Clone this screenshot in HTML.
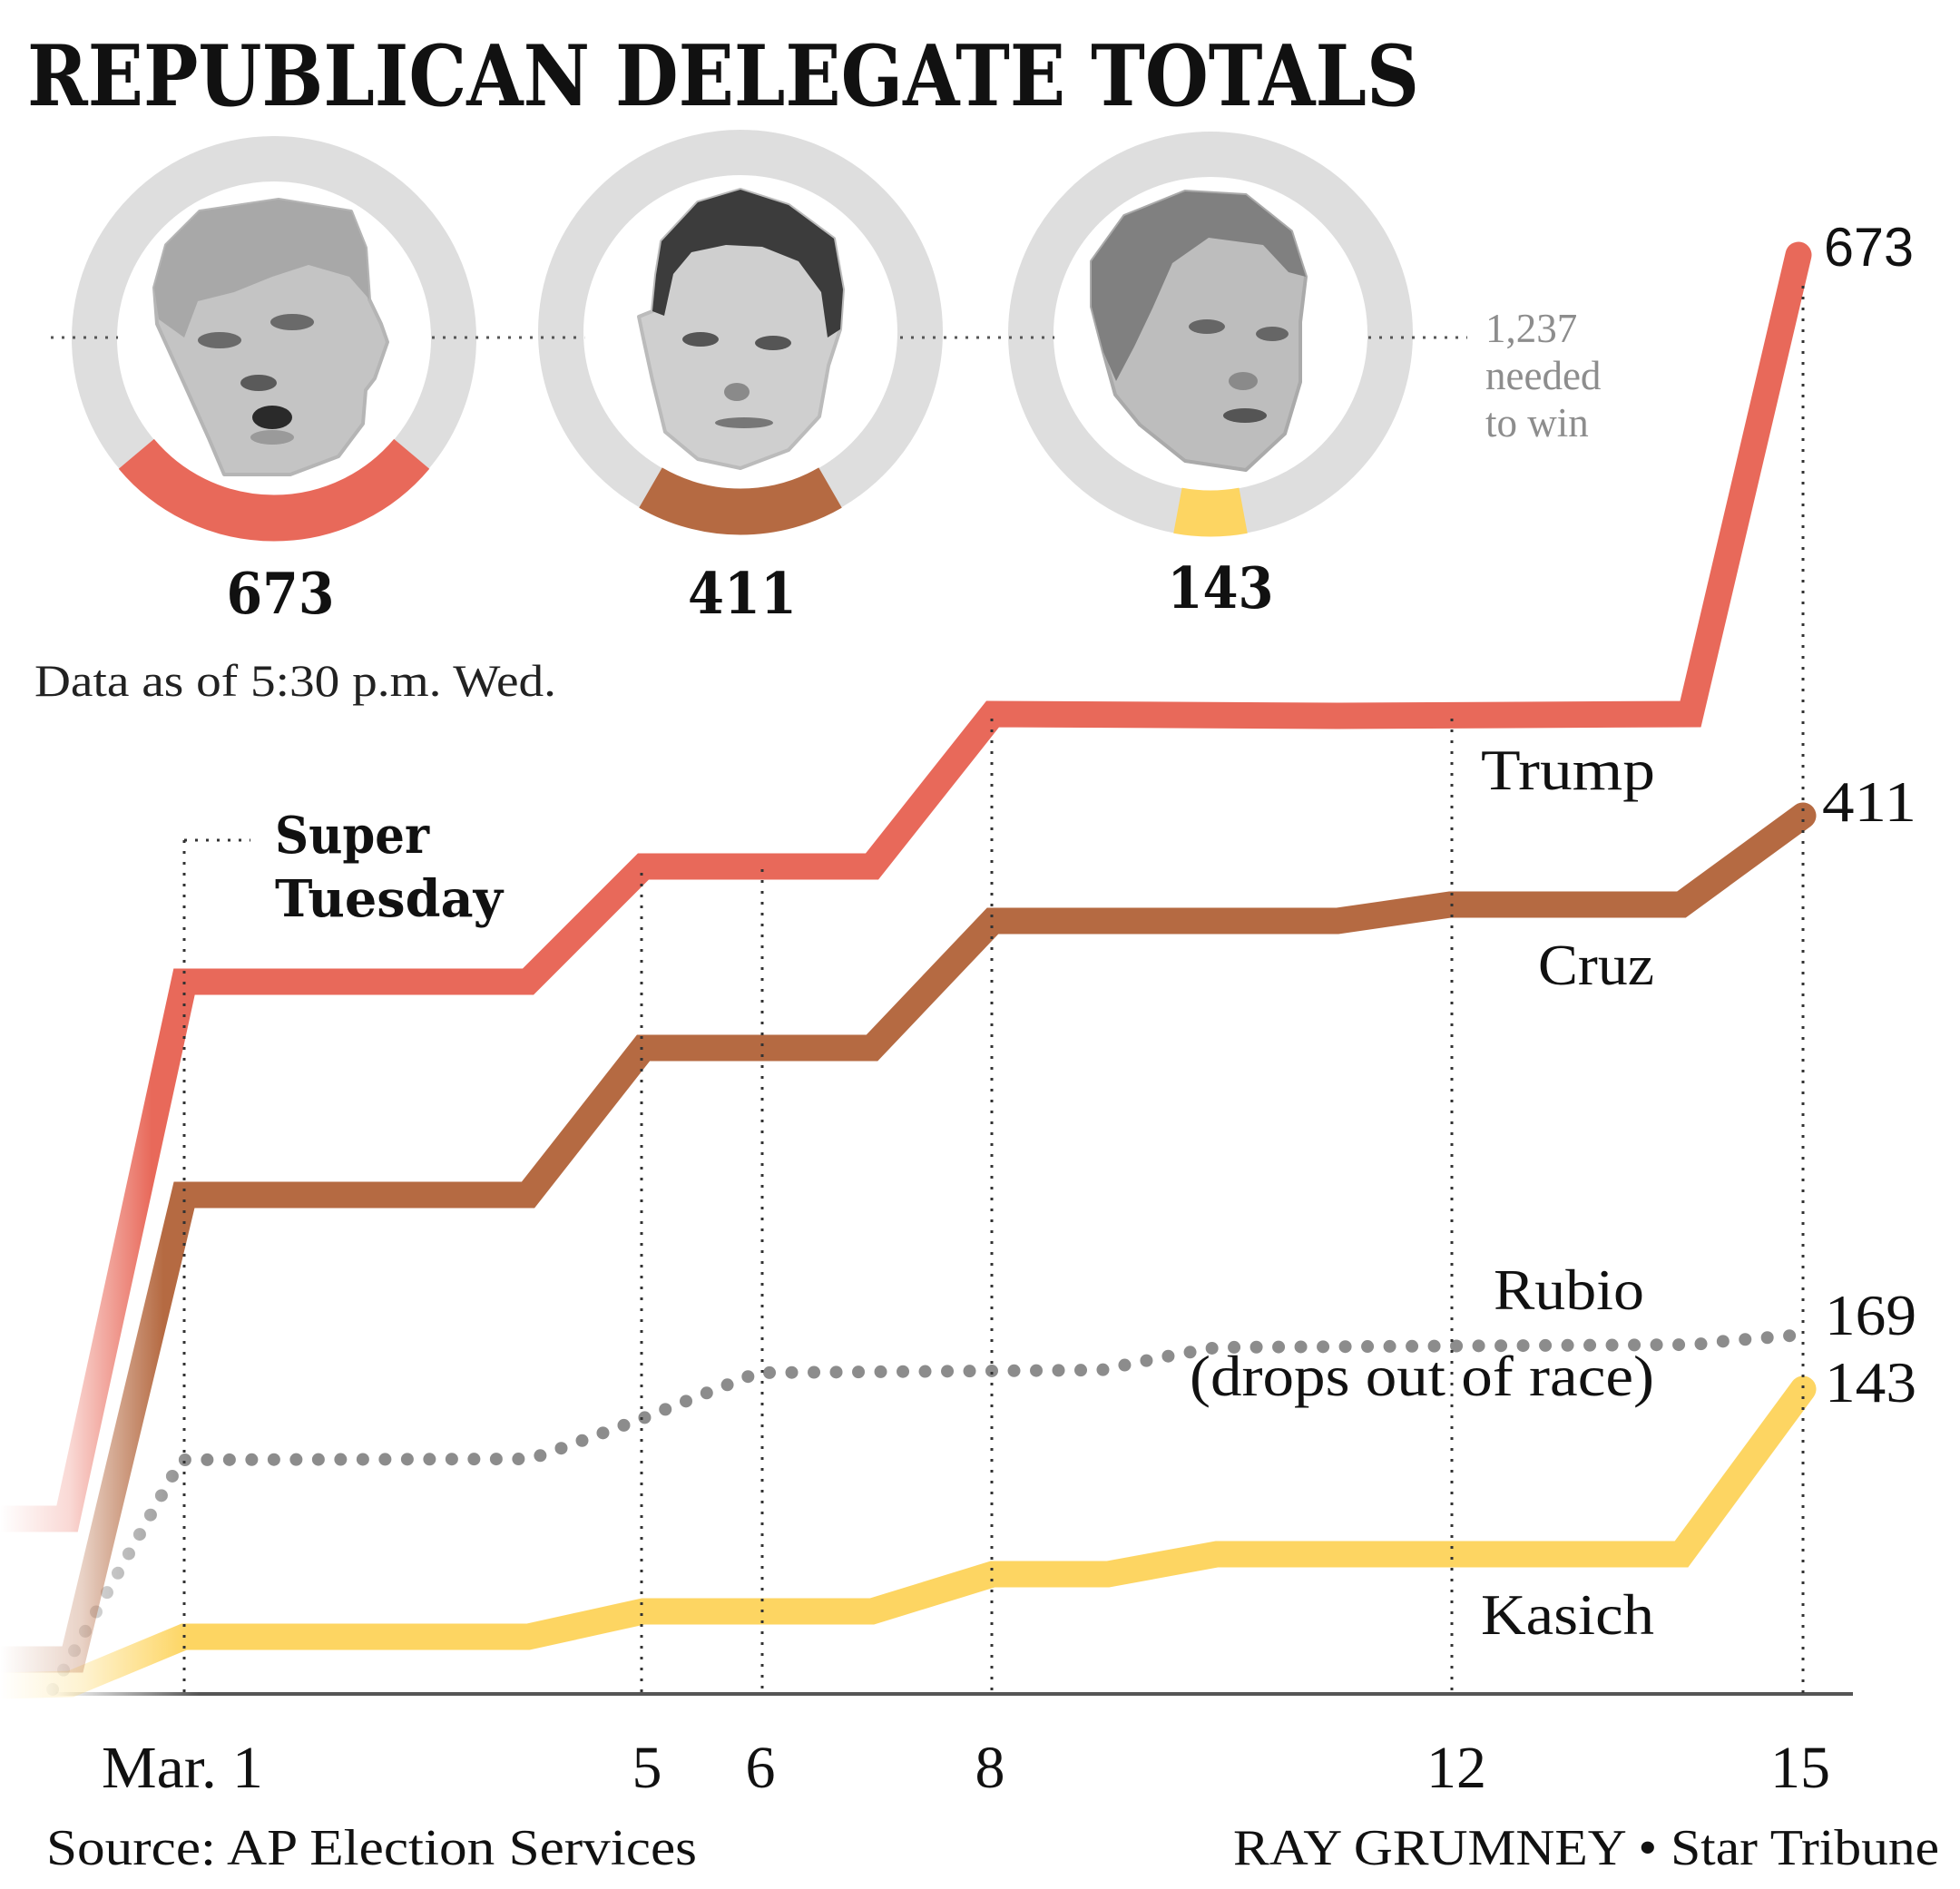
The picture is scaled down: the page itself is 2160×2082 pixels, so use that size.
<!DOCTYPE html>
<html><head><meta charset="utf-8">
<style>
html,body{margin:0;padding:0;background:#fff;}
svg{display:block;}
</style></head>
<body>
<svg xmlns="http://www.w3.org/2000/svg" width="2160" height="2082" viewBox="0 0 2160 2082">
<defs>
<linearGradient id="gT" gradientUnits="userSpaceOnUse" x1="0" y1="0" x2="190" y2="0">
<stop offset="0" stop-color="#e8695a" stop-opacity="0"/>
<stop offset="0.4" stop-color="#e8695a" stop-opacity="0.25"/>
<stop offset="0.88" stop-color="#e8695a" stop-opacity="1"/>
</linearGradient>
<linearGradient id="gC" gradientUnits="userSpaceOnUse" x1="0" y1="0" x2="200" y2="0">
<stop offset="0" stop-color="#b56a42" stop-opacity="0"/>
<stop offset="0.45" stop-color="#b56a42" stop-opacity="0.3"/>
<stop offset="0.9" stop-color="#b56a42" stop-opacity="1"/>
</linearGradient>
<linearGradient id="gK" gradientUnits="userSpaceOnUse" x1="0" y1="0" x2="230" y2="0">
<stop offset="0" stop-color="#fdd562" stop-opacity="0"/>
<stop offset="0.4" stop-color="#fdd562" stop-opacity="0.3"/>
<stop offset="0.9" stop-color="#fdd562" stop-opacity="1"/>
</linearGradient>
<linearGradient id="gR" gradientUnits="userSpaceOnUse" x1="40" y1="0" x2="210" y2="0">
<stop offset="0" stop-color="#8c8c8c" stop-opacity="0"/>
<stop offset="0.5" stop-color="#8c8c8c" stop-opacity="0.5"/>
<stop offset="1" stop-color="#8c8c8c" stop-opacity="1"/>
</linearGradient>
<linearGradient id="gA" gradientUnits="userSpaceOnUse" x1="60" y1="0" x2="220" y2="0">
<stop offset="0" stop-color="#555" stop-opacity="0"/>
<stop offset="1" stop-color="#555" stop-opacity="1"/>
</linearGradient>
</defs>

<!-- Title -->
<text x="30" y="116" font-family="'DejaVu Serif','Liberation Serif',serif" font-weight="bold" font-size="93" fill="#111" textLength="1534" lengthAdjust="spacingAndGlyphs">REPUBLICAN DELEGATE TOTALS</text>

<!-- rings -->
<circle cx="302" cy="373" r="198" fill="none" stroke="#dedede" stroke-width="50"/>
<circle cx="816" cy="366" r="198" fill="none" stroke="#dedede" stroke-width="50"/>
<circle cx="1334" cy="368" r="198" fill="none" stroke="#dedede" stroke-width="50"/>

<!-- dotted 1237 line -->
<line x1="56" y1="372" x2="1617" y2="372" stroke="#555" stroke-width="3" stroke-dasharray="3 9"/>

<!-- inner white disks -->
<circle cx="302" cy="373" r="172" fill="#fff"/>
<circle cx="816" cy="366" r="172" fill="#fff"/>
<circle cx="1334" cy="368" r="172" fill="#fff"/>

<!-- colored arcs -->
<path d="M150.3 500.3 A198 198 0 0 0 453.7 500.3" fill="none" stroke="#e8695a" stroke-width="51"/>
<path d="M717 537.5 A198 198 0 0 0 915 537.5" fill="none" stroke="#b56a42" stroke-width="51"/>
<path d="M1297.9 562.7 A198 198 0 0 0 1370.1 562.7" fill="none" stroke="#fdd562" stroke-width="51"/>

<!-- Trump face -->
<path d="M183 270 L220 233 L307 220 L387 233 L403 273 L407 330 L420 357 L427 377 L413 417 L403 430 L400 467 L373 503 L320 523 L247 523 L230 483 L203 423 L173 357 L170 317 Z" fill="#c4c4c4" stroke="#b5b5b5" stroke-width="4" stroke-linejoin="round"/>
<path d="M183 270 L220 233 L307 220 L387 233 L403 273 L407 330 L385 305 L340 292 L300 305 L258 322 L218 332 L203 372 L175 352 L170 317 Z" fill="#a8a8a8"/>
<ellipse cx="242" cy="375" rx="24" ry="9" fill="#6a6a6a"/>
<ellipse cx="322" cy="355" rx="24" ry="9" fill="#6a6a6a"/>
<ellipse cx="285" cy="422" rx="20" ry="9" fill="#5a5a5a"/>
<ellipse cx="300" cy="460" rx="22" ry="13" fill="#2a2a2a"/>
<ellipse cx="300" cy="482" rx="24" ry="8" fill="#9a9a9a"/>

<!-- Cruz face -->
<path d="M729 266 L769 223 L816 209 L869 226 L919 263 L929 319 L926 363 L913 403 L903 459 L869 496 L816 516 L769 506 L733 476 L719 419 L709 373 L704 349 L719 343 L723 303 Z" fill="#cfcfcf" stroke="#bbb" stroke-width="4" stroke-linejoin="round"/>
<path d="M729 266 L769 223 L816 209 L869 226 L919 263 L929 319 L926 363 L912 372 L905 322 L880 288 L840 272 L800 270 L762 278 L742 302 L732 348 L719 343 L723 303 Z" fill="#3c3c3c"/>
<ellipse cx="772" cy="374" rx="20" ry="8" fill="#555"/>
<ellipse cx="852" cy="378" rx="20" ry="8" fill="#555"/>
<ellipse cx="812" cy="432" rx="14" ry="10" fill="#8a8a8a"/>
<ellipse cx="820" cy="466" rx="32" ry="6" fill="#777"/>

<!-- Kasich face -->
<path d="M1203 288 L1239 238 L1306 211 L1373 215 L1423 255 L1439 305 L1433 355 L1433 421 L1416 478 L1373 518 L1306 508 L1256 468 L1229 435 L1216 388 L1203 338 Z" fill="#bdbdbd" stroke="#aaa" stroke-width="4" stroke-linejoin="round"/>
<path d="M1203 288 L1239 238 L1306 211 L1373 215 L1423 255 L1439 305 L1420 300 L1392 270 L1332 262 L1292 290 L1270 340 L1250 382 L1230 420 L1216 388 L1203 338 Z" fill="#808080"/>
<ellipse cx="1330" cy="360" rx="20" ry="8" fill="#666"/>
<ellipse cx="1402" cy="368" rx="18" ry="8" fill="#666"/>
<ellipse cx="1370" cy="420" rx="16" ry="10" fill="#8a8a8a"/>
<ellipse cx="1372" cy="458" rx="24" ry="8" fill="#555"/>

<!-- big numbers -->
<text x="309" y="676" text-anchor="middle" font-family="'DejaVu Serif','Liberation Serif',serif" font-weight="bold" font-size="63" fill="#111" textLength="119" lengthAdjust="spacingAndGlyphs">673</text>
<text x="818" y="676" text-anchor="middle" font-family="'DejaVu Serif','Liberation Serif',serif" font-weight="bold" font-size="63" fill="#111" textLength="120" lengthAdjust="spacingAndGlyphs">411</text>
<text x="1345" y="670" text-anchor="middle" font-family="'DejaVu Serif','Liberation Serif',serif" font-weight="bold" font-size="63" fill="#111" textLength="117" lengthAdjust="spacingAndGlyphs">143</text>

<!-- 1237 note -->
<g font-family="'Liberation Serif',serif" font-size="45" fill="#8d8d8d">
<text x="1637" y="377">1,237</text>
<text x="1637" y="429">needed</text>
<text x="1637" y="481">to win</text>
</g>

<text x="38" y="767" font-family="'Liberation Serif',serif" font-size="50" fill="#222" textLength="575" lengthAdjust="spacingAndGlyphs">Data as of 5:30 p.m. Wed.</text>

<!-- axis -->
<line x1="60" y1="1867" x2="2042" y2="1867" stroke="url(#gA)" stroke-width="4"/>

<!-- series -->
<path d="M58 1862 L200 1609 L582 1608 L600 1603 L709 1563 L835 1513 L1214 1510 L1242 1504 L1291 1494 L1341 1485 L1867 1482 L1902 1478 L1987 1471" fill="none" stroke="url(#gR)" stroke-width="14" stroke-linecap="round" stroke-dasharray="0 24.5"/>
<path d="M0 1858 L78 1856 L203 1804 L582 1804 L709 1776 L961 1776 L1094 1735 L1221 1735 L1341 1713 L1853 1713 L1987 1531" fill="none" stroke="url(#gK)" stroke-width="29" stroke-linecap="round" stroke-linejoin="miter"/>
<path d="M0 1829 L80 1829 L203 1317 L582 1317 L709 1155 L961 1155 L1094 1015 L1474 1015 L1598 997 L1853 997 L1987 899" fill="none" stroke="url(#gC)" stroke-width="29" stroke-linecap="round" stroke-linejoin="miter"/>
<path d="M0 1674 L74 1674 L203 1082 L582 1082 L709 955 L961 955 L1094 787 L1474 789 L1863 787 L1982 281" fill="none" stroke="url(#gT)" stroke-width="29" stroke-linecap="round" stroke-linejoin="miter"/>

<!-- vertical dotted gridlines -->
<g stroke="#333" stroke-width="3" stroke-dasharray="3 9">
<line x1="203" y1="926" x2="203" y2="1866"/>
<line x1="203" y1="926" x2="276" y2="926"/>
<line x1="707" y1="962" x2="707" y2="1866"/>
<line x1="840" y1="958" x2="840" y2="1866"/>
<line x1="1093" y1="792" x2="1093" y2="1866"/>
<line x1="1600" y1="792" x2="1600" y2="1866"/>
<line x1="1987" y1="315" x2="1987" y2="1866"/>
</g>

<!-- Super Tuesday -->
<g font-family="'DejaVu Serif','Liberation Serif',serif" font-weight="bold" font-size="56" fill="#111">
<text x="303" y="940" textLength="170" lengthAdjust="spacingAndGlyphs">Super</text>
<text x="303" y="1010" textLength="251" lengthAdjust="spacingAndGlyphs">Tuesday</text>
</g>

<!-- series labels -->
<g font-family="'Liberation Serif',serif" font-size="64" fill="#111">
<text x="1632" y="870" textLength="192" lengthAdjust="spacingAndGlyphs">Trump</text>
<text x="1695" y="1085" textLength="128" lengthAdjust="spacingAndGlyphs">Cruz</text>
<text x="1646" y="1443" textLength="166" lengthAdjust="spacingAndGlyphs">Rubio</text>
<text x="1311" y="1538" textLength="512" lengthAdjust="spacingAndGlyphs">(drops out of race)</text>
<text x="1632" y="1801" textLength="191" lengthAdjust="spacingAndGlyphs">Kasich</text>
<text x="2008" y="905" textLength="104" lengthAdjust="spacingAndGlyphs">411</text>
<text x="2011" y="1471" textLength="101" lengthAdjust="spacingAndGlyphs">169</text>
<text x="2011" y="1545" textLength="101" lengthAdjust="spacingAndGlyphs">143</text>
</g>
<text x="2010" y="293" font-family="'Liberation Sans',sans-serif" font-size="60" fill="#111" textLength="99" lengthAdjust="spacingAndGlyphs">673</text>

<!-- axis labels -->
<g font-family="'Liberation Serif',serif" font-size="66" fill="#111">
<text x="112" y="1970" textLength="178" lengthAdjust="spacingAndGlyphs">Mar. 1</text>
<text x="713" y="1970" text-anchor="middle">5</text>
<text x="838" y="1970" text-anchor="middle">6</text>
<text x="1091" y="1970" text-anchor="middle">8</text>
<text x="1605" y="1970" text-anchor="middle">12</text>
<text x="1984" y="1970" text-anchor="middle">15</text>
</g>

<!-- footer -->
<g font-family="'Liberation Serif',serif" font-size="56" fill="#111">
<text x="51" y="2055" textLength="717" lengthAdjust="spacingAndGlyphs">Source: AP Election Services</text>
<text x="1359" y="2055" textLength="778" lengthAdjust="spacingAndGlyphs">RAY GRUMNEY • Star Tribune</text>
</g>
</svg>
</body></html>
